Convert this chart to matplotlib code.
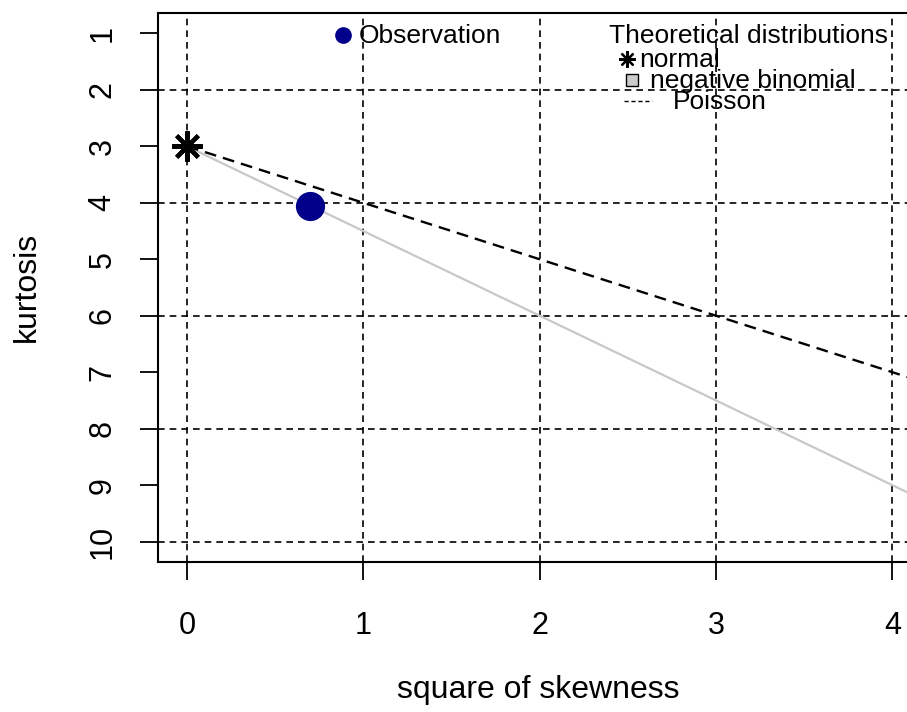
import matplotlib
matplotlib.use("Agg")
import matplotlib.pyplot as plt
from matplotlib.lines import Line2D

plt.rcParams['font.family'] = ['Liberation Sans', 'DejaVu Sans']

# Observed point (square of skewness, kurtosis)
obs_skew2 = [0.70]
obs_kurt = [4.05]

# Theoretical distributions
normal_skew2 = [0.0]
normal_kurt = [3.0]
poisson_skew2 = [0.0, 4.3]
poisson_kurt = [3.0, 7.3]
negbin_skew2 = [0.0, 4.3]
negbin_kurt = [3.0, 9.45]

x_ticks = [0, 1, 2, 3, 4]
y_ticks = [1, 2, 3, 4, 5, 6, 7, 8, 9, 10]
x_grid = [0, 1, 2, 3, 4]
y_grid = [2, 4, 6, 8, 10]

W, H = 907, 712
fig = plt.figure(figsize=(W / 100, H / 100), dpi=100)
ax = fig.add_axes([158 / W, (H - 562) / H, 781 / W, 549 / H])
ax.set_xlim(-0.164, 4.264)
ax.set_ylim(10.36, 0.64)

TFS = 22  # tick labels
FS = 23   # axis titles
LFS = 19  # legend text
grid_kw = dict(color='black', lw=1.2, dashes=(4, 3))
for gx in x_grid:
    ax.axvline(gx, **grid_kw, zorder=1)
for gy in y_grid:
    ax.axhline(gy, **grid_kw, zorder=1)

ax.plot(negbin_skew2, negbin_kurt, color='#c8c8c8', lw=1.6, zorder=2)
ax.plot(poisson_skew2, poisson_kurt, color='black', lw=1.7, dashes=(5, 3), zorder=3)
ax.plot(normal_skew2, normal_kurt, marker=(8, 2, 0), ms=22, mew=3,
        color='black', ls='none', zorder=4, clip_on=False)
ax.plot(obs_skew2, obs_kurt, marker='o', ms=20, color='#00008B', mec='#00008B',
        ls='none', zorder=5)

ax.set_xticks(x_ticks)
ax.set_yticks(y_ticks)
ax.set_xticklabels([str(v) for v in x_ticks], fontsize=TFS)
ax.set_yticklabels([str(v) for v in y_ticks], fontsize=TFS, rotation=90, va='center')
ax.tick_params(axis='both', length=13, width=1.3, direction='out')
ax.tick_params(axis='x', pad=22)
ax.tick_params(axis='y', pad=16)
for s in ['left', 'bottom', 'top', 'right']:
    ax.spines[s].set_linewidth(1.5)

fig.text(538 / W, 1 - 698 / H, 'square of skewness', ha='center', va='baseline',
         fontsize=FS)
fig.text(35 / W, 1 - 287 / H, 'kurtosis', ha='center', va='baseline', fontsize=FS,
         rotation=90, rotation_mode='anchor')

def fx(px):
    return px / W

def fy(py):
    return 1 - py / H

# Observation legend
fig.add_artist(Line2D([fx(343)], [fy(35)], marker='o', ms=11, color='#00008B', ls='none'))
fig.text(fx(359), fy(36), 'Observation', ha='left', va='center', fontsize=LFS)

# Theoretical distributions legend
fig.text(fx(888), fy(36), 'Theoretical distributions', ha='right', va='center', fontsize=LFS)
fig.add_artist(Line2D([fx(627)], [fy(59)], marker=(8, 2, 0), ms=12, mew=1.6, color='black', ls='none'))
fig.text(fx(639), fy(60), 'normal', ha='left', va='center', fontsize=LFS)
fig.add_artist(Line2D([fx(632)], [fy(80)], marker='s', ms=8, mfc='#cccccc', mec='black', mew=1, ls='none'))
fig.text(fx(650), fy(81), 'negative binomial', ha='left', va='center', fontsize=LFS)
fig.add_artist(Line2D([fx(624), fx(652)], [fy(101), fy(101)], color='black', lw=1, dashes=(3, 2)))
fig.text(fx(673), fy(102), 'Poisson', ha='left', va='center', fontsize=LFS)

fig.savefig('out.png', dpi=100)
